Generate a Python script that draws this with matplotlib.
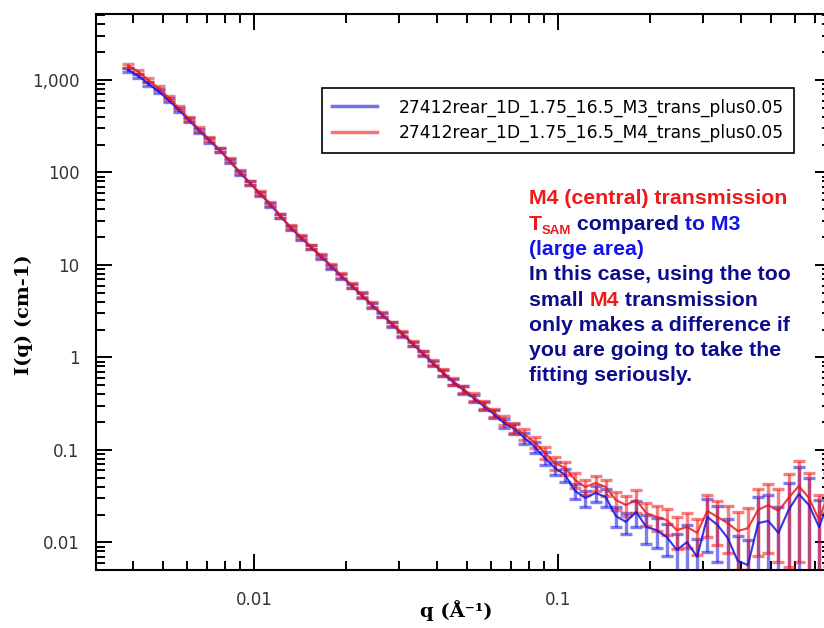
import matplotlib
matplotlib.use('Agg')
import matplotlib.pyplot as plt
from matplotlib.lines import Line2D
from matplotlib.ticker import LogLocator, FixedLocator, FixedFormatter, NullFormatter

# ---- data (q in 1/A, I in 1/cm) ----
q = [0.00385, 0.004158, 0.004491, 0.00485, 0.005238, 0.005657, 0.00611, 0.006598,
     0.007126, 0.007696, 0.008312, 0.008977, 0.009695, 0.01047, 0.01131, 0.01221,
     0.01319, 0.01425, 0.01539, 0.01662, 0.01795, 0.01938, 0.02093, 0.02261,
     0.02442, 0.02637, 0.02848, 0.03076, 0.03322, 0.03588, 0.03875, 0.04185,
     0.0452, 0.04881, 0.05272, 0.05694, 0.06149, 0.06641, 0.07173, 0.07747,
     0.08366, 0.09036, 0.09759, 0.1054, 0.1138, 0.1229, 0.1328, 0.1434,
     0.1549, 0.1672, 0.1806, 0.1951, 0.2107, 0.2275, 0.2457, 0.2654,
     0.2866, 0.3096, 0.3343, 0.3611, 0.39, 0.4212, 0.4549, 0.4913,
     0.5306, 0.573, 0.6189, 0.6684, 0.7218, 0.7796]

# M3 (large area) transmission
i_m3 = [1283, 1116, 910, 755, 604, 473, 366, 284, 222, 175, 133, 99.5, 76.6, 58.5,
        45.0, 33.7, 25.1, 19.8, 15.5, 12.3, 9.62, 7.56, 5.95, 4.67, 3.67, 2.89,
        2.27, 1.79, 1.40, 1.10, 0.865, 0.678, 0.542, 0.446, 0.365, 0.298, 0.244,
        0.196, 0.169, 0.135, 0.108, 0.0819, 0.0639, 0.0537, 0.0360, 0.0303,
        0.0343, 0.0310, 0.0193, 0.0167, 0.0214, 0.0147, 0.0136, 0.0115, 0.0083,
        0.0101, 0.0070, 0.0189, 0.0155, 0.0112, 0.0063, 0.0057, 0.0162, 0.0171,
        0.0127, 0.0225, 0.0334, 0.0254, 0.0147, 0.0288]

# M4 (central) transmission
i_m4 = [1431, 1233, 993, 813, 642, 497, 380, 292, 228, 177, 135, 101, 78.0, 59.6,
        45.9, 34.3, 25.6, 20.2, 15.8, 12.5, 9.80, 7.70, 6.06, 4.76, 3.74, 2.94,
        2.31, 1.82, 1.43, 1.12, 0.881, 0.692, 0.554, 0.456, 0.375, 0.308, 0.254,
        0.209, 0.174, 0.148, 0.121, 0.0940, 0.0723, 0.0639, 0.0474, 0.0398,
        0.0440, 0.0398, 0.0288, 0.0254, 0.0288, 0.0208, 0.0189, 0.0175, 0.0136,
        0.0147, 0.0127, 0.0219, 0.0189, 0.0162, 0.0133, 0.0143, 0.0225, 0.0254,
        0.0219, 0.0303, 0.0408, 0.0303, 0.0175, 0.0370]

# relative error bars
rel_err_m3 = [0.05, 0.05, 0.05, 0.05, 0.05, 0.05, 0.05, 0.05, 0.05, 0.05,
              0.05, 0.05, 0.05, 0.05, 0.05, 0.05, 0.05, 0.05, 0.05, 0.05,
              0.05, 0.06, 0.06, 0.06, 0.06, 0.06, 0.06, 0.06, 0.06, 0.06,
              0.07, 0.08, 0.08, 0.09, 0.09, 0.10, 0.10, 0.11, 0.12, 0.13,
              0.14, 0.15, 0.16, 0.17, 0.18, 0.20, 0.20, 0.22, 0.24, 0.26,
              0.32, 0.34, 0.36, 0.38, 0.50, 0.52, 0.55, 0.58, 0.60, 0.62,
              0.85, 0.88, 0.90, 0.90, 0.90, 0.95, 0.95, 0.95, 0.95, 0.95]
rel_err_m4 = [0.05, 0.05, 0.05, 0.05, 0.05, 0.05, 0.05, 0.05, 0.05, 0.05,
              0.05, 0.05, 0.05, 0.05, 0.05, 0.05, 0.05, 0.05, 0.05, 0.05,
              0.05, 0.06, 0.06, 0.06, 0.06, 0.06, 0.06, 0.06, 0.06, 0.06,
              0.07, 0.08, 0.08, 0.09, 0.09, 0.10, 0.10, 0.11, 0.12, 0.13,
              0.14, 0.15, 0.16, 0.17, 0.18, 0.19, 0.19, 0.20, 0.22, 0.24,
              0.27, 0.28, 0.30, 0.32, 0.38, 0.40, 0.42, 0.48, 0.50, 0.52,
              0.62, 0.65, 0.68, 0.70, 0.72, 0.82, 0.85, 0.85, 0.85, 0.85]

labels = ['27412rear_1D_1.75_16.5_M3_trans_plus0.05',
          '27412rear_1D_1.75_16.5_M4_trans_plus0.05']
y_ticks = [0.01, 0.1, 1, 10, 100, 1000]
y_ticklabels = ['0.01', '0.1', '1', '10', '100', '1,000']
x_ticks = [0.01, 0.1]
x_ticklabels = ['0.01', '0.1']

BLUE = '#1414e6'
RED = '#f01818'
NAVY = '#0c0c8c'

W, H = 824, 628
fig = plt.figure(figsize=(W / 100, H / 100), dpi=100)
fig.patch.set_facecolor('white')

# axes box in pixels: left 96, right 831 (just past the crop), top 14, bottom 570
ax = fig.add_axes([96 / W, 1 - 570 / H, (831 - 96) / W, (570 - 14) / H])
ax.set_xscale('log')
ax.set_yscale('log')

err3 = [v * r for v, r in zip(i_m3, rel_err_m3)]
err4 = [v * r for v, r in zip(i_m4, rel_err_m4)]

for vals, errs, col in [(i_m3, err3, BLUE), (i_m4, err4, RED)]:
    ax.errorbar(q, vals, yerr=errs, fmt='none', ecolor=col, alpha=0.55,
                elinewidth=2.4, capsize=4.0, capthick=2.4, zorder=2)
    ax.plot(q, vals, color=col, lw=1.5, alpha=0.85, zorder=3)

ax.set_xlim(0.00302, 0.79)
ax.set_ylim(0.00504, 5170)

ax.xaxis.set_major_locator(FixedLocator(x_ticks))
ax.xaxis.set_major_formatter(FixedFormatter(x_ticklabels))
ax.yaxis.set_major_locator(FixedLocator(y_ticks))
ax.yaxis.set_major_formatter(FixedFormatter(y_ticklabels))
for axis in (ax.xaxis, ax.yaxis):
    axis.set_minor_locator(LogLocator(base=10, subs=range(2, 10), numticks=20))
    axis.set_minor_formatter(NullFormatter())

ax.tick_params(which='both', direction='in', top=True, right=True,
               width=1.4, color='black', labelsize=12, labelcolor='#333333')
ax.tick_params(which='major', length=11.5)
ax.tick_params(which='minor', length=6.5)
ax.tick_params(axis='y', pad=12)
ax.tick_params(axis='x', pad=15)
for sp in ax.spines.values():
    sp.set_linewidth(1.5)

ax.set_ylabel('I(q) (cm-1)', family='DejaVu Serif', fontweight='bold', fontsize=14)
ax.yaxis.set_label_coords(-0.086, 0.46)
ax.set_xlabel('q (Å⁻¹)', family='DejaVu Serif', fontweight='bold', fontsize=14)
ax.xaxis.set_label_coords(0.49, -0.054)

handles = [Line2D([], [], color=BLUE, alpha=0.6, lw=2.5),
           Line2D([], [], color=RED, alpha=0.6, lw=2.5)]
leg = ax.legend(handles, labels, loc='upper left',
                bbox_to_anchor=(322 / W, 1 - 88 / H), bbox_transform=fig.transFigure,
                borderaxespad=0, fancybox=False, framealpha=1, edgecolor='black',
                handlelength=2.6, handletextpad=1.3,
                labelspacing=0.45, borderpad=0.6,
                prop={'family': 'DejaVu Sans', 'size': 12.3})
leg.get_frame().set_linewidth(1.2)

# ---- coloured annotation, placed piece by piece ----
fig.canvas.draw()
rend = fig.canvas.get_renderer()


def put(x, y, s, color, size=15.3):
    t = fig.text(x / W, 1 - y / H, s, color=color, fontsize=size,
                 fontweight='bold', family='Liberation Sans', va='baseline', ha='left')
    return x + t.get_window_extent(rend).width


x0 = 529
base = [204.3 + 25.3 * i for i in range(8)]

put(x0, base[0], 'M4 (central) transmission', RED)
x = put(x0, base[1], 'T', RED)
x = put(x, base[1] + 4.5, 'SAM', RED, size=9.5)
x = put(x, base[1], ' compared', NAVY)
put(x, base[1], ' to M3', BLUE)
put(x0, base[2], '(large area)', BLUE)
put(x0, base[3], 'In this case, using the too', NAVY)
x = put(x0, base[4], 'small ', NAVY)
x = put(x, base[4], 'M4', RED)
put(x, base[4], ' transmission', NAVY)
put(x0, base[5], 'only makes a difference if', NAVY)
put(x0, base[6], 'you are going to take the', NAVY)
put(x0, base[7], 'fitting seriously.', NAVY)

fig.savefig('out.png', dpi=100, facecolor='white')
